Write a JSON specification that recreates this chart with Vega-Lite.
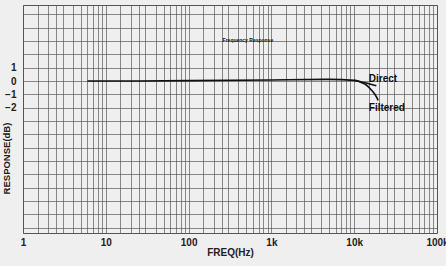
{
  "$schema": "https://vega.github.io/schema/vega-lite/v6.json",
  "width": 414,
  "height": 228,
  "autosize": {"type": "none"},
  "padding": {"left": 23, "top": 5, "right": 9, "bottom": 33},
  "background": "#eeefee",
  "config": {
    "view": {"stroke": "#555", "strokeWidth": 1},
    "font": "Liberation Sans"
  },
  "datasets": {
    "curves": [
      {"series": "Direct", "freq": 6, "db": 0.0},
      {"series": "Direct", "freq": 20, "db": 0.0},
      {"series": "Direct", "freq": 100, "db": 0.03},
      {"series": "Direct", "freq": 1000, "db": 0.08},
      {"series": "Direct", "freq": 5000, "db": 0.12},
      {"series": "Direct", "freq": 10000, "db": 0.05},
      {"series": "Direct", "freq": 12000, "db": -0.05},
      {"series": "Direct", "freq": 15000, "db": -0.2},
      {"series": "Direct", "freq": 18500, "db": -0.35},
      {"series": "Filtered", "freq": 10000, "db": 0.05},
      {"series": "Filtered", "freq": 12000, "db": -0.1},
      {"series": "Filtered", "freq": 14000, "db": -0.3},
      {"series": "Filtered", "freq": 16000, "db": -0.65},
      {"series": "Filtered", "freq": 18000, "db": -1.05},
      {"series": "Filtered", "freq": 19500, "db": -1.45}
    ],
    "labels": [
      {"label": "Direct", "freq": 15000, "db": 0.15},
      {"label": "Filtered", "freq": 15000, "db": -2.0}
    ],
    "heading": [
      {"label": "Frequency  Response", "freq": 520, "db": 3.1}
    ]
  },
  "encoding": {
    "x": {
      "field": "freq", "type": "quantitative",
      "scale": {"type": "log", "domain": [1, 100000], "nice": false},
      "axis": {
        "values": [1,1.5,2,2.5,3,4,5,6,7,8,9,10,15,20,25,30,40,50,60,70,80,90,100,150,200,250,300,400,500,600,700,800,900,1000,1500,2000,2500,3000,4000,5000,6000,7000,8000,9000,10000,15000,20000,25000,30000,40000,50000,60000,70000,80000,90000,100000],
        "labelExpr": "datum.value == 1 ? '1' : datum.value == 10 ? '10' : datum.value == 100 ? '100' : datum.value == 1000 ? '1k' : datum.value == 10000 ? '10k' : datum.value == 100000 ? '100k' : ''",
        "grid": true, "gridColor": "#555", "gridWidth": 0.8, "gridOpacity": 0.85,
        "ticks": false, "domain": false,
        "labelFont": "Liberation Sans", "labelFontWeight": "bold", "labelFontSize": 10, "labelColor": "#222",
        "labelPadding": 4, "labelFlush": false, "labelOverlap": false,
        "title": "FREQ(Hz)", "titleFont": "Liberation Sans", "titleFontWeight": "bold", "titleFontSize": 10, "titleColor": "#222",
        "titlePadding": 0
      }
    },
    "y": {
      "field": "db", "type": "quantitative",
      "scale": {"domain": [-11.4, 5.7], "nice": false, "zero": false},
      "axis": {
        "values": [-11,-10,-9,-8,-7,-6,-5,-4,-3,-2,-1,0,1,2,3,4,5],
        "labelExpr": "datum.value <= 1 && datum.value >= -2 ? (datum.value < 0 ? '−' + abs(datum.value) : '' + datum.value) : ''",
        "grid": true, "gridColor": "#555", "gridWidth": 0.8, "gridOpacity": 0.85,
        "ticks": false, "domain": false,
        "labelFont": "Liberation Sans", "labelFontWeight": "bold", "labelFontSize": 10, "labelColor": "#222",
        "labelPadding": 7, "labelOverlap": false, "labelBound": false,
        "title": "RESPONSE(dB)", "titleFont": "Liberation Sans", "titleFontWeight": "bold", "titleFontSize": 9.5, "titleColor": "#222",
        "titleX": -12, "titleY": 153
      }
    }
  },
  "layer": [
    {
      "data": {"name": "curves"},
      "mark": {"type": "line", "color": "#111", "strokeWidth": 1.6, "interpolate": "monotone"},
      "encoding": {"detail": {"field": "series"}}
    },
    {
      "data": {"name": "labels"},
      "mark": {"type": "text", "align": "left", "baseline": "middle", "fontWeight": "bold", "fontSize": 10, "color": "#111", "font": "Liberation Sans"},
      "encoding": {"text": {"field": "label"}}
    },
    {
      "data": {"name": "heading"},
      "mark": {"type": "text", "align": "center", "baseline": "middle", "fontWeight": "bold", "fontSize": 5, "color": "#111", "font": "Liberation Sans"},
      "encoding": {"text": {"field": "label"}}
    }
  ]
}
